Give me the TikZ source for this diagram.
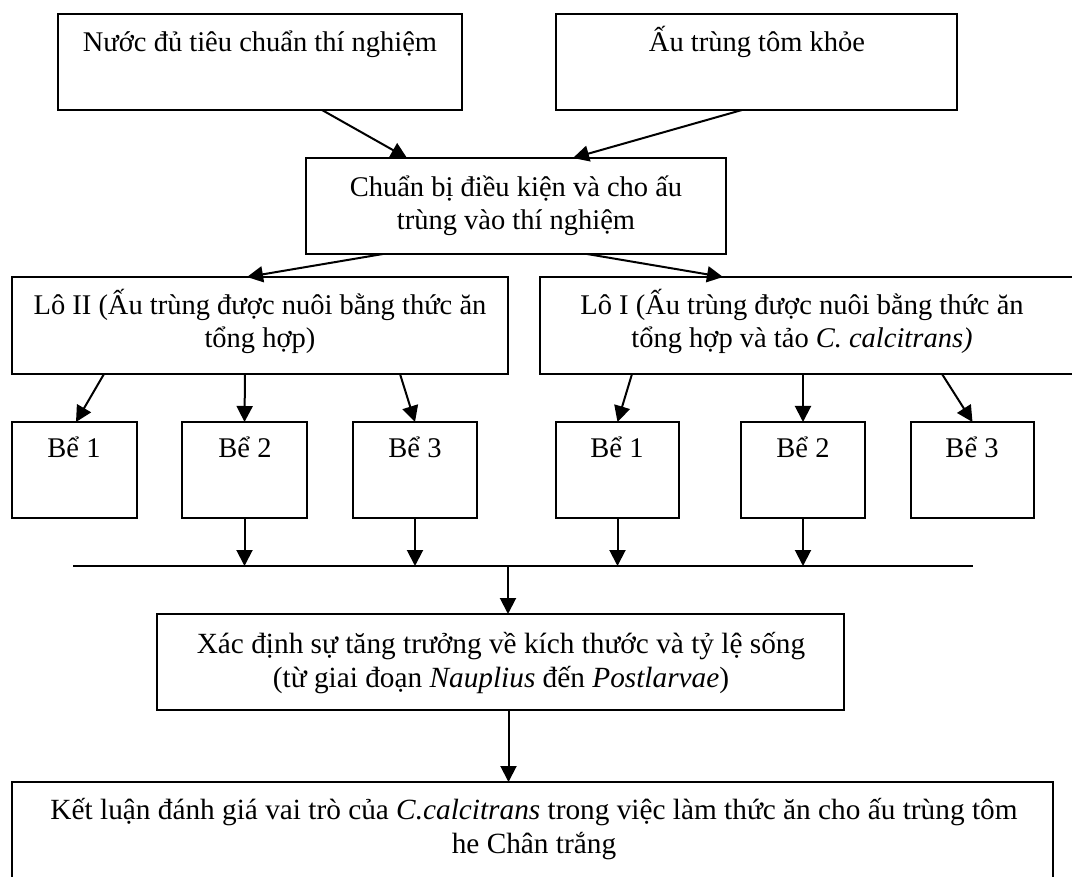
\documentclass[tikz,border=0pt]{standalone}
\usepackage{fontspec}
\setmainfont{Liberation Serif}
\usepackage{tikz}
\usetikzlibrary{
    arrows.meta,
    calc,
    fit,
    positioning
}
\tikzset{
    every picture/.style = {
        x = 1pt,
        y = -1pt
    },
    box/.style = {
        draw,
        line width = 2.2pt,
        inner sep = 0pt,
        outer sep = 0pt
    },
    txt/.style = {
        inner sep = 0pt,
        outer sep = 0pt,
        align = center,
        anchor = base,
        font = \fontsize{28.5}{33}\selectfont
    },
    bigtxt/.style = {
        txt,
        font = \fontsize{29.3}{34}\selectfont
    },
    flow/.style = {
        -{Triangle[length=16pt, width=16pt]},
        line width = 2pt
    }
}

\begin{document}
\begin{tikzpicture}
    % \draw[step = 100, lightgray, very thin] (0, 0) grid (1072, 877);
    \useasboundingbox (0, 0) rectangle (1072, 877);
    \clip (0, 0) rectangle (1072, 877);

    \node[box, fit = {(58, 14) (462, 110)}] (nuoc) {};
    \node[box, fit = {(556, 14) (957, 110)}] (autrung) {};
    \node[box, fit = {(306, 158) (726, 254)}] (chuanbi) {};
    \node[box, fit = {(12, 277) (508, 374)}] (lo2) {};
    \node[box, fit = {(540, 277) (1080, 374)}] (lo1) {};

    \node[box, fit = {(12, 422) (137, 518)}] (be-l1) {};
    \node[box, fit = {(182, 422) (307, 518)}] (be-l2) {};
    \node[box, fit = {(353, 422) (477, 518)}] (be-l3) {};
    \node[box, fit = {(556, 422) (679, 518)}] (be-r1) {};
    \node[box, fit = {(741, 422) (865, 518)}] (be-r2) {};
    \node[box, fit = {(911, 422) (1034, 518)}] (be-r3) {};

    \node[box, fit = {(157, 614) (844, 710)}] (xacdinh) {};
    \node[box, fit = {(12, 782) (1053, 890)}] (ketluan) {};

    % base of a two-line node = baseline of its last line
    \node[txt] (nuoc-t) at (260, 52) {Nước đủ tiêu chuẩn thí nghiệm};
    \node[txt] (autrung-t) at (757, 52) {Ấu trùng tôm khỏe};
    \node[txt] (chuanbi-t) at (516, 230) {Chuẩn bị điều kiện và cho ấu \\ trùng vào thí nghiệm};
    \node[txt] (lo2-t) at (260, 348) {Lô II (Ấu trùng được nuôi bằng thức ăn \\ tổng hợp)};
    \node[txt] (lo1-t) at (802, 348) {Lô I (Ấu trùng được nuôi bằng thức ăn \\ tổng hợp và tảo \textit{C. calcitrans)}};

    \node[txt] (be-l1-t) at (74, 457) {Bể 1};
    \node[txt] (be-l2-t) at (245, 457) {Bể 2};
    \node[txt] (be-l3-t) at (415, 457) {Bể 3};
    \node[txt] (be-r1-t) at (617, 457) {Bể 1};
    \node[txt] (be-r2-t) at (803, 457) {Bể 2};
    \node[txt] (be-r3-t) at (972, 457) {Bể 3};

    \node[bigtxt] (xacdinh-t) at (501, 687) {Xác định sự tăng trưởng về kích thước và tỷ lệ sống \\ (từ giai đoạn \textit{Nauplius} đến \textit{Postlarvae})};
    \node[bigtxt] (ketluan-t) at (534, 853) {Kết luận đánh giá vai trò của \textit{C.calcitrans} trong việc làm thức ăn cho ấu trùng tôm \\ he Chân trắng};

    \coordinate (bus-l) at (73, 566);
    \coordinate (bus-r) at (973, 566);
    \coordinate (bus-m) at (508, 566);

    \draw[flow] ([xshift = 62pt] nuoc.south) -- ([xshift = -109pt] chuanbi.north);
    \draw[flow] ([xshift = -14.5pt] autrung.south) -- ([xshift = 57pt] chuanbi.north);
    \draw[flow] ([xshift = -133pt] chuanbi.south) -- ([xshift = -13pt] lo2.north);
    \draw[flow] ([xshift = 71pt] chuanbi.south) -- ([xshift = -87pt] lo1.north);

    \draw[flow] ([xshift = -156pt] lo2.south) -- ([xshift = 1.5pt] be-l1.north);
    \draw[flow] ([xshift = -15pt] lo2.south) -- (be-l2.north);
    \draw[flow] ([xshift = 140pt] lo2.south) -- (be-l3.north);
    \draw[flow] ([xshift = -178pt] lo1.south) -- (be-r1.north);
    \draw[flow] ([xshift = -7pt] lo1.south) -- (be-r2.north);
    \draw[flow] ([xshift = 132pt] lo1.south) -- (be-r3.north);

    \draw[line width = 2pt] (bus-l) -- (bus-r);
    \draw[flow] (be-l2.south) -- (be-l2.south |- bus-l);
    \draw[flow] (be-l3.south) -- (be-l3.south |- bus-l);
    \draw[flow] (be-r1.south) -- (be-r1.south |- bus-l);
    \draw[flow] (be-r2.south) -- (be-r2.south |- bus-l);

    \draw[flow] (bus-m) -- (bus-m |- xacdinh.north);
    \draw[flow] ([xshift = 8pt] xacdinh.south) -- ([xshift = 8pt] xacdinh.south |- ketluan.north);
\end{tikzpicture}
\end{document}
